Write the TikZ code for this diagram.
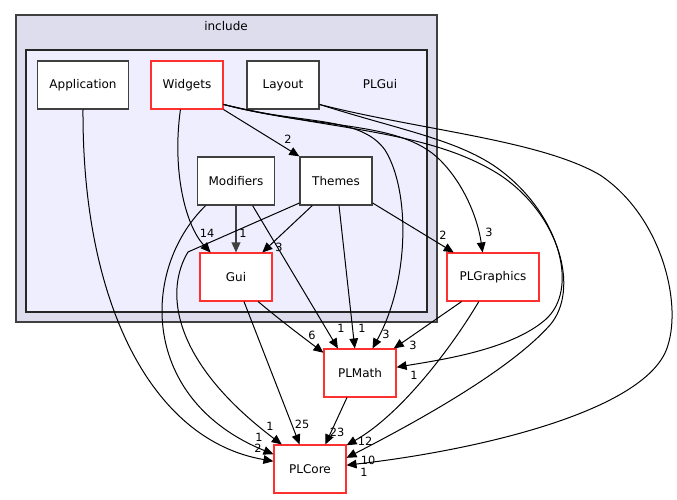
\documentclass[tikz,border=0pt]{standalone}
\usepackage{fontspec}
\setmainfont{DejaVu Sans}
\usetikzlibrary{arrows.meta,positioning}
\definecolor{outerfill}{HTML}{DDDDEE}
\definecolor{innerfill}{HTML}{EEEEFF}
\definecolor{boxline}{HTML}{404040}
\definecolor{extline}{HTML}{FF3030}
\tikzset{>={Triangle[length=7.5pt,width=6.5pt]}, % filled heads like doxygen
node distance=72pt, % rows are 72pt apart
dirbox/.style={draw=boxline, line width=1pt, fill=white, minimum width=54pt, minimum height=36pt, font=\fontsize{9}{11}\selectfont}, % a sub directory
extbox/.style={dirbox, draw=extline, line width=0.8pt}, % a directory outside PLGui
dep/.style={->, line width=0.75pt}, % a dependency edge
lbl/.style={font=\fontsize{8.5}{10}\selectfont, inner sep=0pt}, % its count
}

\begin{document}
\begin{tikzpicture}[x=0.75pt,y=-0.75pt]
\useasboundingbox (0,0) rectangle (677,499);
% clusters
\draw[boxline, fill=outerfill, line width=1pt] (16,15) rectangle (437,322);
\node[font=\fontsize{9}{11}\selectfont] (include) at (226,26) {include};
\draw[black!85, fill=innerfill, line width=1pt] (26,50) rectangle (427,312);
\node[font=\fontsize{9}{11}\selectfont] (plgui) at (380,84) {PLGui};
% directories
\node[extbox] (widgets) at (187,85) {Widgets};
\node[dirbox, right of=widgets] (layout) {Layout};
\node[dirbox, left of=widgets, xshift=-6pt, minimum width=68pt] (app) {Application};
\node[dirbox, below of=widgets, xshift=36.75pt, minimum width=58pt] (modifiers) {Modifiers};
\node[dirbox, right of=modifiers, xshift=3pt] (themes) {Themes};
\node[extbox, below of=modifiers] (gui) {Gui};
\node[extbox, minimum width=69pt] (plgraphics) at (493,277) {PLGraphics};
\node[extbox, below of=gui, xshift=93pt] (plmath) {PLMath};
\node[extbox, below of=plmath, xshift=-37.5pt] (plcore) {PLCore};
% edges
\draw[dep] (app.south) .. controls (82,300) and (150,440) .. (plcore.168) node[lbl, at={(258,448)}] {2};
\draw[dep] (widgets.-105) .. controls (172,170) and (185,225) .. (gui.136) node[lbl, at={(207,233)}] {14};
\draw[dep] (widgets.south east) -- (themes.north west) node[lbl, at={(288,139)}] {2};
\draw[dep] (widgets.-28) .. controls (300,125) and (360,115) .. (385,150) .. controls (410,190) and (410,280) .. (plmath.63) node[lbl, at={(386,334)}] {3};
\draw[dep] (widgets.-28) .. controls (320,130) and (400,120) .. (440,160) .. controls (465,185) and (478,220) .. (plgraphics.113) node[lbl, at={(489,232)}] {3};
\draw[dep] (widgets.-28) .. controls (330,130) and (430,130) .. (500,175) .. controls (560,215) and (580,290) .. (550,325) .. controls (510,370) and (420,420) .. (plcore.17) node[lbl, at={(368,460)}] {10};
\draw[dep] (layout.-28) .. controls (400,130) and (460,140) .. (500,170) .. controls (560,215) and (580,290) .. (545,320) .. controls (510,350) and (440,360) .. (plmath.9) node[lbl, at={(414,375)}] {1};
\draw[dep] (layout.-28) .. controls (420,130) and (540,140) .. (600,175) .. controls (660,215) and (682,300) .. (668,345) .. controls (650,410) and (480,450) .. (plcore.6) node[lbl, at={(364,472)}] {1};
\draw[dep, boxline, line width=1pt] (modifiers.south) -- (gui.north) node[lbl, black, at={(243,233)}] {1};
\draw[dep] (modifiers.-56) -- (plmath.132) node[lbl, at={(341,328)}] {1};
\draw[dep] (modifiers.-141) .. controls (140,270) and (140,400) .. (plcore.158) node[lbl, at={(259,437)}] {1};
\draw[dep] (themes.-134) -- (gui.43) node[lbl, at={(279,247)}] {3};
\draw[dep] (themes.-83) -- (plmath.102) node[lbl, at={(362,328)}] {1};
\draw[dep] (themes.-31) -- (plgraphics.148) node[lbl, at={(443,235)}] {2};
\draw[dep] (themes.-149) -- (188,252) .. controls (165,290) and (170,360) .. (plcore.139) node[lbl, at={(270,426)}] {1};
\draw[dep] (gui.-48) .. controls (280,320) and (300,335) .. (plmath.151) node[lbl, at={(312,335)}] {6};
\draw[dep] (gui.-72) -- (plcore.113) node[lbl, at={(302,424)}] {25};
\draw[dep] (plgraphics.-142) -- (plmath.36) node[lbl, at={(413,345)}] {3};
\draw[dep] (plgraphics.-120) .. controls (450,350) and (400,415) .. (plcore.33) node[lbl, at={(365,441)}] {12};
\draw[dep] (plmath.-118) -- (plcore.58) node[lbl, at={(337,432)}] {23};
\end{tikzpicture}
\end{document}
